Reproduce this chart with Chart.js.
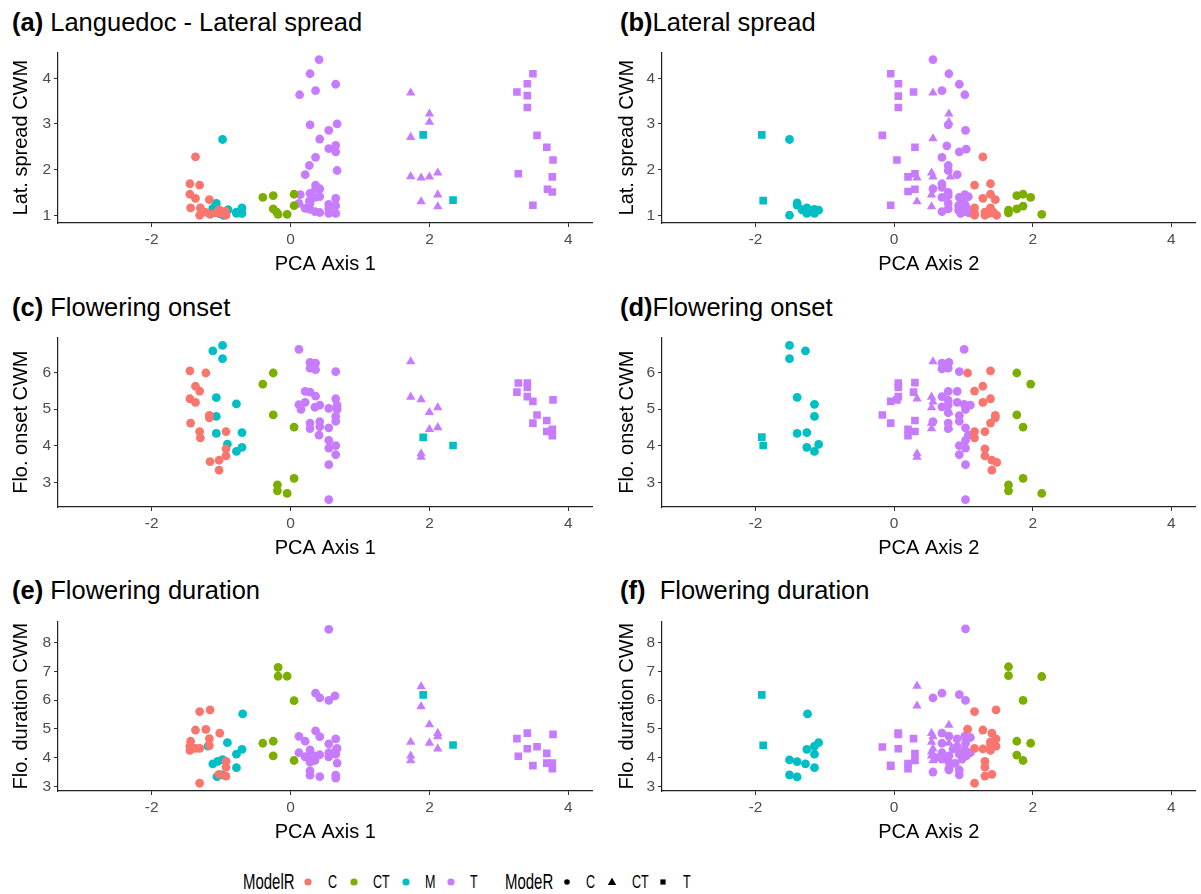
<!DOCTYPE html>
<html lang="en">
<head>
  <meta charset="UTF-8">
  <title>CWM vs PCA axes</title>
  <script src="https://cdn.jsdelivr.net/npm/chart.js@4.4.0/dist/chart.umd.min.js"></script>
  <style>
    body { margin: 0; background: #fff; font-family: 'Liberation Sans', Arial, sans-serif; }
    #wrap { position: relative; width: 1201px; height: 894px; overflow: hidden; }
    .panel { position: absolute; }
    .ptitle { position: absolute; font-size: 25.5px; line-height: 28px; color: #000; white-space: pre; }
    .lg { position: absolute; top: 869px; height: 26px; line-height: 26px; white-space: pre; transform-origin: left center; transform: scaleX(0.68); color: #000; }
    .lg.head { font-size: 22px; }
    .lg.item { font-size: 18.5px; }
    .sym { position: absolute; top: 875px; }
  </style>
</head>
<body>
<div id="wrap">
  <div class="ptitle" style="left:12px;top:8px"><b>(a)</b> Languedoc - Lateral spread</div>
  <div class="ptitle" style="left:620px;top:8px"><b>(b)</b>Lateral spread</div>
  <div class="ptitle" style="left:12px;top:293px"><b>(c)</b> Flowering onset</div>
  <div class="ptitle" style="left:620px;top:293px"><b>(d)</b>Flowering onset</div>
  <div class="ptitle" style="left:12px;top:576px"><b>(e)</b> Flowering duration</div>
  <div class="ptitle" style="left:620px;top:576px"><b>(f)</b>  Flowering duration</div>

  <div class="panel" style="left:0;top:40px"><canvas id="ca" width="598" height="237"></canvas></div>
  <div class="panel" style="left:604px;top:40px"><canvas id="cb" width="597" height="237"></canvas></div>
  <div class="panel" style="left:0;top:325px"><canvas id="cc" width="598" height="236"></canvas></div>
  <div class="panel" style="left:604px;top:325px"><canvas id="cd" width="597" height="236"></canvas></div>
  <div class="panel" style="left:0;top:609px"><canvas id="ce" width="598" height="236"></canvas></div>
  <div class="panel" style="left:604px;top:609px"><canvas id="cf" width="597" height="236"></canvas></div>

  <div id="legend"></div>
</div>

<script>
  // ---- axis ticks ----
  const xTicks = [-2, 0, 2, 4];
  const latTicks = [1, 2, 3, 4];
  const onsetTicks = [3, 4, 5, 6];
  const durTicks = [3, 4, 5, 6, 7, 8];

  // ---- legend ----
  const modelRLevels = ['C', 'CT', 'M', 'T'];
  const modeRLevels = ['C', 'CT', 'T'];

  // ---- (a) PCA axis 1 vs lateral spread ----
  const aC_C = [[-1.37,2.28],[-1.45,1.69],[-1.31,1.66],[-1.45,1.46],[-1.37,1.37],[-1.17,1.34],[-1.44,1.16],[-1.30,1.16],[-1.31,1.00],[-1.23,1.07],[-1.16,1.02],[-1.03,1.12],[-1.00,1.04],[-0.94,1.09],[-0.93,1.00],[-1.08,1.05]];
  const aCT_C = [[-0.40,1.39],[-0.25,1.43],[-0.25,1.14],[-0.20,1.07],[-0.18,1.02],[-0.05,1.02],[0.05,1.46],[0.05,1.21]];
  const aM_C = [[-0.98,2.66],[-1.07,1.26],[-1.12,1.15],[-1.08,1.18],[-0.97,1.00],[-0.90,1.12],[-0.78,1.07],[-0.78,1.04],[-0.70,1.16],[-0.70,1.04],[-1.02,1.03]];
  const aT_C = [[0.41,4.41],[0.28,4.10],[0.65,3.87],[0.13,3.64],[0.36,3.73],[0.28,2.98],[0.55,2.86],[0.67,3.00],[0.42,2.67],[0.55,2.46],[0.65,2.53],[0.65,2.39],[0.36,2.27],[0.27,2.09],[0.21,1.89],[0.67,1.98],[0.36,1.66],[0.36,1.58],[0.42,1.58],[0.28,1.48],[0.14,1.45],[0.35,1.39],[0.42,1.41],[0.65,1.37],[0.12,1.26],[0.28,1.26],[0.21,1.15],[0.28,1.13],[0.35,1.08],[0.42,1.06],[0.55,1.24],[0.65,1.21],[0.55,1.15],[0.55,1.04],[0.65,1.04],[0.27,1.31]];
  const aT_CT = [[1.73,3.68],[2.00,3.22],[2.00,3.04],[1.73,2.71],[1.73,1.85],[1.88,1.82],[2.00,1.84],[2.12,1.93],[2.12,1.45],[1.88,1.30],[2.12,1.19]];
  const aM_T = [[1.91,2.76],[2.34,1.33]];
  const aT_T = [[3.49,4.10],[3.41,3.88],[3.26,3.70],[3.41,3.62],[3.41,3.36],[3.55,2.75],[3.69,2.49],[3.78,2.21],[3.28,1.91],[3.77,1.84],[3.70,1.57],[3.77,1.51],[3.49,1.22]];

  // ---- (b) PCA axis 2 vs lateral spread ----
  const bC_C = [[1.28,2.28],[1.16,1.66],[1.39,1.69],[1.39,1.46],[1.28,1.37],[1.46,1.34],[1.16,1.16],[1.39,1.16],[1.16,1.00],[1.31,1.07],[1.36,1.04],[1.43,1.07],[1.48,1.00],[1.31,1.00],[1.41,1.05],[1.16,1.04]];
  const bCT_C = [[1.77,1.43],[1.86,1.46],[1.97,1.39],[1.77,1.14],[1.86,1.20],[1.65,1.11],[1.65,1.05],[2.13,1.02]];
  const bM_C = [[-1.51,2.66],[-1.51,1.00],[-1.40,1.27],[-1.40,1.22],[-1.26,1.16],[-1.26,1.04],[-1.15,1.13],[-1.15,1.04],[-1.09,1.11],[-1.20,1.10],[-1.33,1.12]];
  const bT_C = [[0.56,4.41],[0.79,4.10],[0.94,3.87],[0.69,3.73],[1.02,3.64],[0.78,2.98],[1.03,2.86],[0.76,2.52],[0.94,2.39],[1.04,2.45],[0.69,2.27],[0.78,2.09],[0.78,1.98],[0.91,1.89],[0.69,1.69],[0.69,1.61],[0.56,1.58],[0.78,1.50],[0.78,1.43],[0.69,1.39],[0.94,1.39],[1.02,1.45],[1.07,1.41],[0.78,1.26],[0.78,1.14],[0.69,1.08],[0.93,1.21],[0.93,1.11],[1.02,1.24],[1.02,1.08],[0.96,1.04],[1.08,1.05],[1.04,1.18],[0.98,1.30],[0.97,1.15]];
  const bT_CT = [[0.56,3.68],[0.79,3.22],[0.79,3.04],[0.56,2.68],[0.54,1.93],[0.56,1.84],[0.81,1.84],[0.33,1.82],[0.54,1.45],[0.33,1.30],[0.54,1.19]];
  const bM_T = [[-1.91,2.76],[-1.89,1.32]];
  const bT_T = [[-0.05,4.10],[0.06,3.88],[0.28,3.70],[0.06,3.61],[0.06,3.36],[-0.17,2.75],[0.30,2.49],[0.04,2.21],[0.30,1.91],[0.20,1.84],[0.30,1.57],[0.20,1.52],[-0.05,1.22]];

  // ---- (c) PCA axis 1 vs flowering onset ----
  const cC_C = [[-1.45,6.04],[-1.22,5.98],[-1.37,5.62],[-1.31,5.49],[-1.45,5.28],[-1.37,5.18],[-1.17,4.83],[-1.17,4.76],[-1.44,4.62],[-1.31,4.39],[-1.30,4.22],[-0.93,4.39],[-0.93,3.92],[-0.93,3.73],[-1.16,3.57],[-1.03,3.61],[-1.03,3.34]];
  const cCT_C = [[-0.40,5.68],[-0.25,5.98],[-0.25,4.84],[0.05,4.51],[0.05,3.12],[-0.19,2.94],[-0.19,2.78],[-0.05,2.71]];
  const cM_C = [[-0.98,6.73],[-1.12,6.58],[-0.98,6.37],[-1.07,5.31],[-0.78,5.14],[-1.07,4.80],[-1.07,4.34],[-0.70,4.36],[-0.91,4.05],[-0.78,3.85],[-0.70,3.96]];
  const cT_C = [[0.12,6.62],[0.28,6.27],[0.36,6.25],[0.28,6.11],[0.36,6.07],[0.65,6.02],[0.21,5.48],[0.28,5.46],[0.36,5.35],[0.65,5.28],[0.12,5.12],[0.21,5.18],[0.15,4.99],[0.35,5.05],[0.42,5.11],[0.55,5.02],[0.67,5.10],[0.67,4.99],[0.65,4.80],[0.65,4.67],[0.28,4.62],[0.28,4.47],[0.42,4.66],[0.42,4.52],[0.55,4.49],[0.41,4.29],[0.55,4.15],[0.65,4.01],[0.55,3.94],[0.65,3.76],[0.55,3.49],[0.55,2.54]];
  const cT_CT = [[1.73,6.29],[1.73,5.33],[1.88,5.26],[2.12,5.04],[2.00,4.91],[2.00,4.45],[2.12,4.50],[1.88,3.79],[1.88,3.70]];
  const cM_T = [[1.91,4.23],[2.34,4.01]];
  const cT_T = [[3.28,5.71],[3.41,5.71],[3.26,5.46],[3.41,5.59],[3.41,5.34],[3.49,5.21],[3.78,5.25],[3.55,4.84],[3.49,4.62],[3.69,4.69],[3.69,4.39],[3.77,4.45],[3.77,4.28]];

  // ---- (d) PCA axis 2 vs flowering onset ----
  const dC_C = [[1.06,5.98],[1.39,6.04],[1.28,5.62],[1.16,5.49],[1.39,5.28],[1.28,5.18],[1.46,4.83],[1.46,4.76],[1.39,4.62],[1.16,4.39],[1.31,4.39],[1.16,4.22],[1.31,3.92],[1.31,3.73],[1.41,3.61],[1.48,3.55],[1.41,3.34]];
  const dCT_C = [[1.77,5.98],[1.97,5.68],[1.77,4.84],[1.86,4.51],[1.86,3.12],[1.65,2.94],[1.65,2.78],[2.13,2.71]];
  const dM_C = [[-1.51,6.73],[-1.51,6.37],[-1.28,6.58],[-1.40,5.32],[-1.15,5.13],[-1.15,4.80],[-1.40,4.34],[-1.26,4.36],[-1.26,3.96],[-1.09,4.04],[-1.15,3.85]];
  const dT_C = [[1.01,6.62],[0.69,6.25],[0.79,6.27],[0.69,6.09],[0.78,6.11],[0.94,6.02],[0.78,5.48],[0.91,5.48],[0.69,5.34],[0.78,5.24],[0.91,5.18],[0.69,5.06],[0.78,5.11],[1.01,5.13],[1.10,5.11],[1.03,4.99],[0.94,4.82],[0.94,4.67],[0.78,4.90],[1.03,4.49],[1.07,4.29],[1.03,4.15],[0.94,4.01],[1.03,3.94],[0.94,3.76],[1.03,3.49],[1.03,2.54],[0.56,4.66],[0.78,4.62],[0.78,4.47]];
  const dT_CT = [[0.56,6.29],[0.33,5.28],[0.54,5.33],[0.54,5.04],[0.56,5.20],[0.79,4.91],[0.54,4.62],[0.54,4.47],[0.79,4.50],[0.33,3.79],[0.33,3.70]];
  const dM_T = [[-1.91,4.24],[-1.89,4.01]];
  const dT_T = [[0.30,5.72],[0.06,5.71],[0.06,5.59],[0.06,5.34],[0.28,5.46],[-0.05,5.21],[0.04,5.25],[-0.17,4.84],[-0.05,4.62],[0.30,4.69],[0.30,4.39],[0.20,4.45],[0.20,4.28]];

  // ---- (e) PCA axis 1 vs flowering duration ----
  const eC_C = [[-1.31,5.60],[-1.16,5.66],[-1.37,4.96],[-1.22,4.98],[-1.02,4.85],[-1.44,4.57],[-1.17,4.66],[-1.45,4.40],[-1.17,4.42],[-1.45,4.25],[-1.37,4.32],[-1.31,4.32],[-0.93,3.87],[-0.93,3.67],[-1.03,3.42],[-0.93,3.36],[-1.31,3.11]];
  const eCT_C = [[-0.18,7.14],[-0.18,6.83],[-0.05,6.83],[0.05,5.98],[-0.40,4.50],[-0.25,4.57],[-0.25,4.06],[0.05,3.90]];
  const eM_C = [[-0.69,5.52],[-0.91,4.52],[-1.19,4.40],[-0.70,4.29],[-0.78,4.12],[-1.12,3.78],[-1.05,3.87],[-0.98,3.93],[-0.78,3.65],[-1.06,3.34],[-0.98,3.40]];
  const eT_C = [[0.55,8.46],[0.36,6.24],[0.42,6.08],[0.55,5.99],[0.64,6.15],[0.12,4.74],[0.21,4.57],[0.36,4.93],[0.42,4.73],[0.65,4.65],[0.55,4.48],[0.67,4.32],[0.28,4.27],[0.12,4.17],[0.21,4.03],[0.28,4.03],[0.35,4.06],[0.42,4.10],[0.55,4.17],[0.65,4.25],[0.55,4.03],[0.65,4.12],[0.28,3.84],[0.35,3.90],[0.67,3.81],[0.28,3.54],[0.28,3.39],[0.42,3.34],[0.65,3.39],[0.65,3.29]];
  const eT_CT = [[1.88,6.47],[1.88,5.78],[2.00,5.15],[2.12,4.85],[2.12,4.73],[1.73,4.54],[2.00,4.51],[2.12,4.31],[1.73,4.06],[1.73,3.90]];
  const eM_T = [[1.91,6.18],[2.34,4.44]];
  const eT_T = [[3.26,4.66],[3.41,4.85],[3.78,4.81],[3.41,4.31],[3.55,4.38],[3.28,4.05],[3.69,4.15],[3.49,3.72],[3.69,3.81],[3.77,3.81],[3.77,3.62]];

  // ---- (f) PCA axis 2 vs flowering duration ----
  const fC_C = [[1.16,5.60],[1.47,5.66],[1.06,4.99],[1.28,4.96],[1.41,4.85],[1.47,4.65],[1.47,4.40],[1.39,4.55],[1.39,4.25],[1.16,4.32],[1.28,4.30],[1.31,3.87],[1.31,3.67],[1.31,3.36],[1.41,3.42],[1.16,3.11],[1.39,4.45]];
  const fCT_C = [[1.65,7.16],[1.65,6.85],[2.13,6.82],[1.86,5.99],[1.77,4.57],[1.97,4.50],[1.77,4.09],[1.86,3.90]];
  const fM_C = [[-1.25,5.52],[-1.09,4.52],[-1.15,4.40],[-1.26,4.29],[-1.15,4.12],[-1.51,3.92],[-1.40,3.86],[-1.28,3.78],[-1.15,3.65],[-1.51,3.40],[-1.40,3.33]];
  const fT_C = [[1.03,8.48],[0.56,6.08],[0.69,6.24],[0.94,6.19],[1.03,5.99],[0.69,4.85],[0.79,4.75],[0.91,4.65],[1.02,4.75],[1.10,4.70],[1.03,4.50],[0.69,4.50],[0.91,4.38],[1.02,4.27],[1.10,4.17],[1.04,4.06],[0.94,4.12],[0.69,4.17],[0.79,4.06],[0.69,3.95],[0.79,3.85],[0.79,3.62],[0.79,3.57],[0.94,3.57],[0.94,3.40],[0.56,3.50],[0.85,4.30],[0.98,3.95],[0.60,4.00],[0.88,3.80]];
  const fT_CT = [[0.33,6.49],[0.33,5.80],[0.79,5.13],[0.54,4.85],[0.56,4.73],[0.54,4.54],[0.79,4.51],[0.56,4.31],[0.54,4.06],[0.56,3.90],[0.54,4.20]];
  const fM_T = [[-1.91,6.18],[-1.89,4.43]];
  const fT_T = [[-0.17,4.37],[0.06,4.81],[0.06,4.31],[-0.05,3.73],[0.28,4.66],[0.30,4.14],[0.30,3.90],[0.20,3.79],[0.20,3.62],[0.06,4.85],[-0.05,3.70]];

  const colC = '#F8766D', colCT = '#7CAE00', colM = '#00BFC4', colT = '#C77CFF';
  const FONT = "'Liberation Sans', Arial, sans-serif";

  Chart.defaults.font.family = FONT;

  function ds(points, color, shape) {
    return {
      data: points.map(p => ({ x: p[0], y: p[1] })),
      pointStyle: shape,
      pointRadius: shape === 'circle' ? 4.4 : 5.4,
      pointHoverRadius: shape === 'circle' ? 4.4 : 5.4,
      pointBackgroundColor: color,
      backgroundColor: color,
      pointBorderWidth: 0,
      borderWidth: 0
    };
  }

  function makePanel(id, g, xTitle, yTitle, yMin, yMax, yTicks, yTitlePad) {
    const ctx = document.getElementById(id).getContext('2d');
    return new Chart(ctx, {
      type: 'scatter',
      data: {
        datasets: [
          ds(g.C_C, colC, 'circle'),
          ds(g.CT_C, colCT, 'circle'),
          ds(g.M_C, colM, 'circle'),
          ds(g.T_C, colT, 'circle'),
          ds(g.T_CT, colT, 'triangle'),
          ds(g.M_T, colM, 'rect'),
          ds(g.T_T, colT, 'rect')
        ]
      },
      options: {
        responsive: false,
        devicePixelRatio: 1,
        animation: false,
        events: [],
        layout: { padding: { top: 8, right: 3, left: 0, bottom: 0 } },
        plugins: { legend: { display: false }, tooltip: { enabled: false } },
        scales: {
          x: {
            type: 'linear',
            min: -3.35,
            max: 4.35,
            afterBuildTicks: s => { s.ticks = xTicks.map(v => ({ value: v })); },
            afterFit: s => { s.height = 54; },
            grid: { drawOnChartArea: false, tickLength: 4, color: '#333', lineWidth: 1 },
            border: { color: '#222', width: 1.2 },
            ticks: { color: '#4D4D4D', font: { size: 15.5 }, padding: 3, callback: v => String(v) },
            title: { display: true, text: xTitle, color: '#000', font: { size: 20 }, padding: { top: 0, bottom: 1 } }
          },
          y: {
            type: 'linear',
            min: yMin,
            max: yMax,
            afterBuildTicks: s => { s.ticks = yTicks.map(v => ({ value: v })); },
            afterFit: s => { s.width = 58; },
            grid: { drawOnChartArea: false, tickLength: 4, color: '#333', lineWidth: 1 },
            border: { color: '#222', width: 1.2 },
            ticks: { color: '#4D4D4D', font: { size: 15.5 }, padding: 3, callback: v => String(v) },
            title: { display: true, text: yTitle, color: '#000', font: { size: 20 }, padding: { top: yTitlePad, bottom: 0 } }
          }
        }
      }
    });
  }

  makePanel('ca', { C_C: aC_C, CT_C: aCT_C, M_C: aM_C, T_C: aT_C, T_CT: aT_CT, M_T: aM_T, T_T: aT_T },
    'PCA Axis 1', 'Lat. spread CWM', 0.83, 4.57, latTicks, 9);
  makePanel('cb', { C_C: bC_C, CT_C: bCT_C, M_C: bM_C, T_C: bT_C, T_CT: bT_CT, M_T: bM_T, T_T: bT_T },
    'PCA Axis 2', 'Lat. spread CWM', 0.83, 4.57, latTicks, 11);
  makePanel('cc', { C_C: cC_C, CT_C: cCT_C, M_C: cM_C, T_C: cT_C, T_CT: cT_CT, M_T: cM_T, T_T: cT_T },
    'PCA Axis 1', 'Flo. onset CWM', 2.34, 6.95, onsetTicks, 9);
  makePanel('cd', { C_C: dC_C, CT_C: dCT_C, M_C: dM_C, T_C: dT_C, T_CT: dT_CT, M_T: dM_T, T_T: dT_T },
    'PCA Axis 2', 'Flo. onset CWM', 2.34, 6.95, onsetTicks, 11);
  makePanel('ce', { C_C: eC_C, CT_C: eCT_C, M_C: eM_C, T_C: eT_C, T_CT: eT_CT, M_T: eM_T, T_T: eT_T },
    'PCA Axis 1', 'Flo. duration CWM', 2.84, 8.74, durTicks, 9);
  makePanel('cf', { C_C: fC_C, CT_C: fCT_C, M_C: fM_C, T_C: fT_C, T_CT: fT_CT, M_T: fM_T, T_T: fT_T },
    'PCA Axis 2', 'Flo. duration CWM', 2.84, 8.74, durTicks, 11);

  // ---- bottom legend (two keys: colour = ModelR, shape = ModeR) ----
  const legend = document.getElementById('legend');
  function addText(txt, left, cls) {
    const s = document.createElement('span');
    s.className = 'lg ' + cls;
    s.style.left = left + 'px';
    s.textContent = txt;
    legend.appendChild(s);
  }
  function addSym(shape, color, cx) {
    const ns = 'http://www.w3.org/2000/svg';
    const svg = document.createElementNS(ns, 'svg');
    svg.setAttribute('width', 14);
    svg.setAttribute('height', 14);
    svg.setAttribute('class', 'sym');
    svg.style.left = (cx - 7) + 'px';
    let el;
    if (shape === 'circle') {
      el = document.createElementNS(ns, 'circle');
      el.setAttribute('cx', 7); el.setAttribute('cy', 7);
      el.setAttribute('r', color === '#000' ? 2.8 : 3.6);
    } else if (shape === 'triangle') {
      el = document.createElementNS(ns, 'polygon');
      el.setAttribute('points', '7,2.5 11.2,10 2.8,10');
    } else {
      el = document.createElementNS(ns, 'rect');
      el.setAttribute('x', 4.4); el.setAttribute('y', 4.4);
      el.setAttribute('width', 5.2); el.setAttribute('height', 5.2);
    }
    el.setAttribute('fill', color);
    svg.appendChild(el);
    legend.appendChild(svg);
  }

  addText('ModelR', 243, 'head');
  const modelRCols = [colC, colCT, colM, colT];
  const modelRSym = [308, 354, 406, 451];
  const modelRTxt = [328, 373, 425, 470];
  modelRLevels.forEach((lv, i) => {
    addSym('circle', modelRCols[i], modelRSym[i]);
    addText(lv, modelRTxt[i], 'item');
  });

  addText('ModeR', 505, 'head');
  const modeRShapes = ['circle', 'triangle', 'rect'];
  const modeRSym = [567, 612, 663];
  const modeRTxt = [586, 632, 683];
  modeRLevels.forEach((lv, i) => {
    addSym(modeRShapes[i], '#000', modeRSym[i]);
    addText(lv, modeRTxt[i], 'item');
  });
</script>
</body>
</html>
